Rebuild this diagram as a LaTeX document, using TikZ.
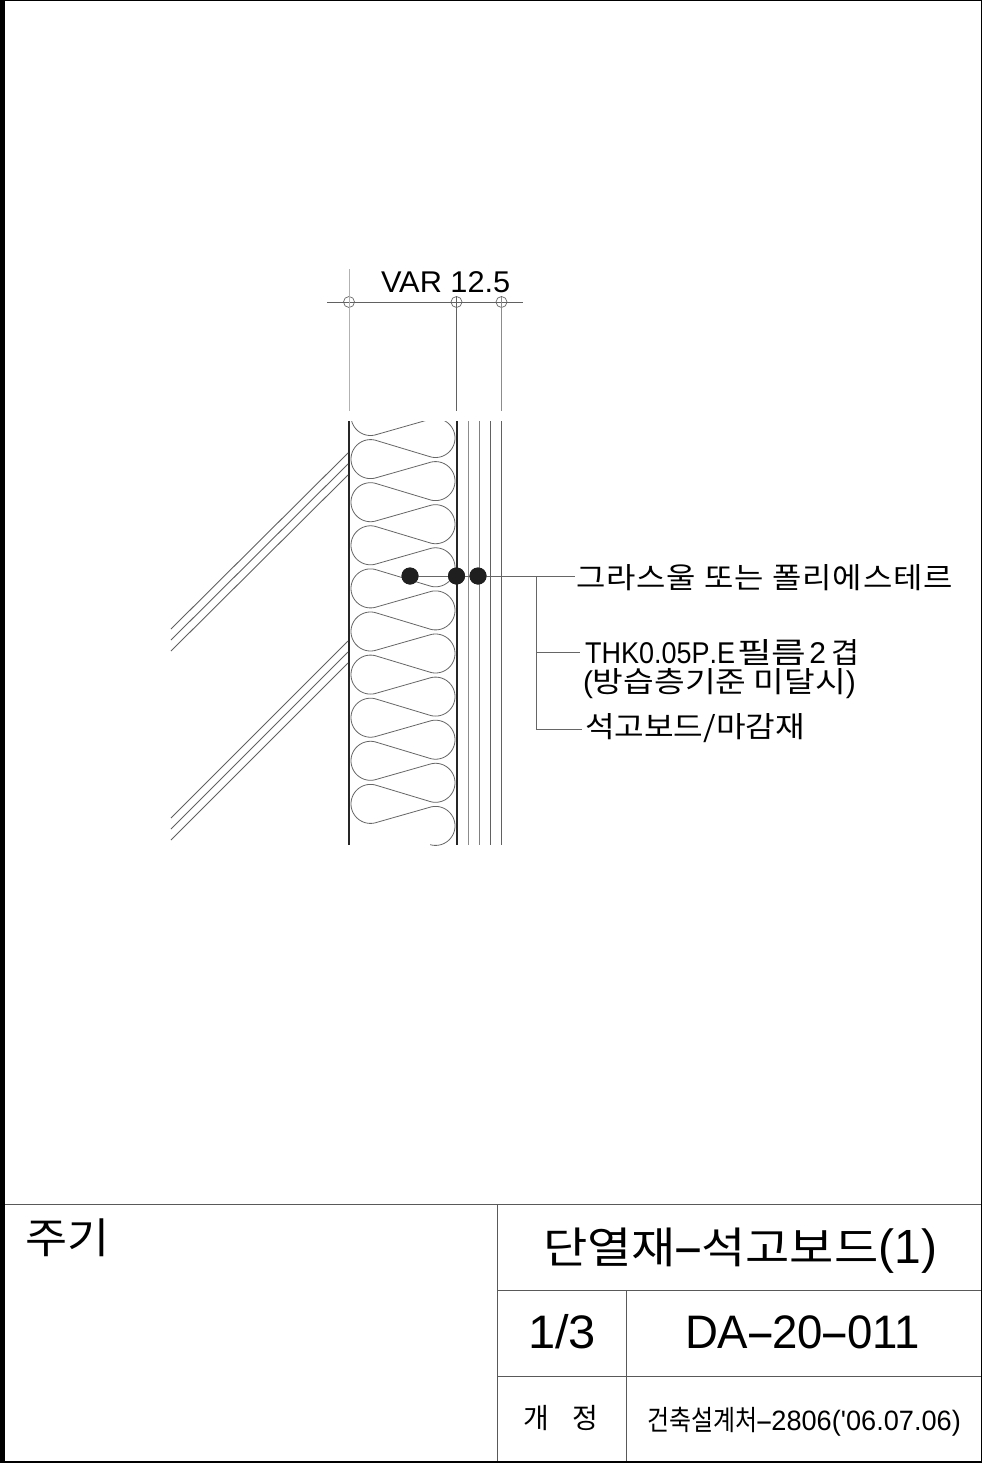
\documentclass[tikz,border=0pt]{standalone}
\usepackage{graphicx}
\usepackage{fontspec}
\setmainfont{Liberation Sans}
\newfontfamily\kr{Noto Sans CJK KR}
\newcommand{\hy}{\hspace{-0.07em}\scalebox{2.0}[1]{-}\hspace{-0.07em}}
\newcommand{\fs}[1]{\fontsize{#1}{#1}\selectfont}
\newcommand{\ls}[1]{\addfontfeature{LetterSpace=#1}}
\newcommand{\wide}[2]{\scalebox{#1}[1]{#2}}
\tikzset{
  frameline/.style={line width=1pt,draw=black!65},
  thin line/.style={line width=0.9pt,draw=black!62},
  wall/.style={line width=2pt,draw=black!85},
  leader/.style={line width=0.9pt,draw=black!60},
  wave/.style={line width=0.8pt,draw=black!60},
  dimring/.style={circle,draw=black!60,line width=0.7pt,minimum size=11pt,inner sep=0pt},
  blob/.style={circle,fill=black!88,draw=none,minimum size=17pt,inner sep=0pt},
  lab/.style={anchor=base west,inner sep=0pt,outer sep=0pt,text=black}
}
\begin{document}
\begin{tikzpicture}[x=1pt,y=-1pt]
\useasboundingbox (0,0) rectangle (982,1463);
\fill[white] (0,0) rectangle (982,1463);
% outer frame
\fill[black] (0,0) rectangle (4.5,1463);
\draw[line width=1pt,black] (4,0.5) -- (981.5,0.5) -- (981.5,1461.5);
\fill[black] (4,1460.5) rectangle (982,1463);
% title block
\draw[frameline] (5,1204.5) -- (981,1204.5);
\draw[frameline] (497.5,1204.5) -- (497.5,1461);
\draw[frameline] (497.5,1290.5) -- (981,1290.5);
\draw[frameline] (497.5,1376.5) -- (981,1376.5);
\draw[frameline] (626.5,1290.5) -- (626.5,1461);
% dimension
\node[dimring] (r1) at (349,302) {};
\node[dimring] (r2) at (456.5,302) {};
\node[dimring] (r3) at (501.5,302) {};
\coordinate (dl) at (327,302);
\coordinate (dr) at (523,302);
\draw[thin line] (dl) -- (dr);
\draw[thin line,draw=black!30] (349,269) -- (349,411);
\draw[thin line] (456.5,297) -- (456.5,411);
\draw[thin line,draw=black!45] (501.5,297) -- (501.5,411);
% layers
\draw[wall] (349,421) -- (349,845);
\draw[wall] (457,421) -- (457,845);
\draw[thin line,draw=black!45] (468,421) -- (468,845);
\draw[thin line,draw=black!50] (479.5,421) -- (479.5,845);
\draw[thin line] (490.5,421) -- (490.5,845);
\draw[thin line] (501.5,421) -- (501.5,845);
% diagonal hatch
\foreach \a/\b in {629/453,640/464,651/475,818/641,829/652,840/663}
  \draw[thin line] (171,\a) -- (348,\b);
% insulation
\begin{scope}
\clip (340,421) rectangle (470,845.5);
\def\r{19.5}
\foreach \i in {0,...,9}{
  \pgfmathsetmacro{\cl}{416+43.1*\i}
  \pgfmathsetmacro{\cR}{438+43.1*\i}
  \draw[wave,domain=-74.1:-285.9,samples=50,smooth,variable=\t] plot ({370.5+\r*cos(\t)},{\cl+\r*sin(\t)});
  \draw[wave] (375.8,\cl+18.75) -- (430.2,\cR-18.75);
  \draw[wave,domain=-105.9:105.9,samples=50,smooth,variable=\t] plot ({435.5+\r*cos(\t)},{\cR+\r*sin(\t)});
  \ifnum\i<9
  \draw[wave] (430.2,\cR+18.75) -- (375.8,\cl+43.1-18.75);
  \fi
}
\end{scope}
% leader
\node[blob] (d1) at (410,576) {};
\node[blob] (d2) at (456.5,576) {};
\node[blob] (d3) at (478,576) {};
\coordinate (lt) at (575,576);
\coordinate (jn) at (536,576);
\coordinate (j2) at (536,652);
\coordinate (j3) at (536,729);
\coordinate (e2) at (580,652);
\coordinate (e3) at (582,729);
\draw[leader] (d1.center) -- (lt);
\draw[leader] (jn) -- (j3) -- (e3);
\draw[leader] (j2) -- (e2);
\node[blob] at (d1) {};
\node[blob] at (d2) {};
\node[blob] at (d3) {};
% labels
\node[lab] (t0) at (381,292) {\wide{1.025}{\fs{30}VAR 12.5}};
\node[lab] (t1) at (576,588) {\wide{1.10}{\kr\fs{29}\ls{3}그라스울 또는 폴리에스테르}};
\node[lab] (t2) at (585,663) {\wide{0.90}{\fs{30}\addfontfeature{Kerning=Off}THK0.05P.E}\hspace{2pt}\wide{1.3}{\kr\fs{29}필름}\hspace{3pt}{\fs{30}2}\hspace{5pt}\wide{1.05}{\kr\fs{29}겹}};
\node[lab] (t3) at (583,692) {\fs{30}(\wide{1.15}{\kr\fs{29}방습층기준 미달시})};
\node[lab] (t4) at (585,737) {\wide{1.11}{\kr\fs{29}석고보드/마감재}};
\node[lab] (n0) at (25,1253) {\wide{1.09}{\kr\fs{42}주기}};
\node[lab] (n1) at (543,1263) {\wide{1.12}{\kr\fs{43}단열재}{\fs{48}\hy}\wide{1.12}{\kr\fs{43}석고보드}{\fs{48}(1)}};
\node[lab] (n2) at (528,1348) {\wide{1.04}{\fs{47}1/3}};
\node[lab] (n3) at (685,1348) {\wide{0.97}{\fs{47}DA\hy20\hy011}};
\node[lab] (n4) at (523,1428) {\kr\fs{28}개\hspace{24pt}정};
\node[lab] (n5) at (647,1430) {\wide{0.855}{\kr\fs{28}건축설계처}\wide{0.97}{\fs{28}\hy2806(\textquotesingle06.07.06)}};
\end{tikzpicture}
\end{document}
